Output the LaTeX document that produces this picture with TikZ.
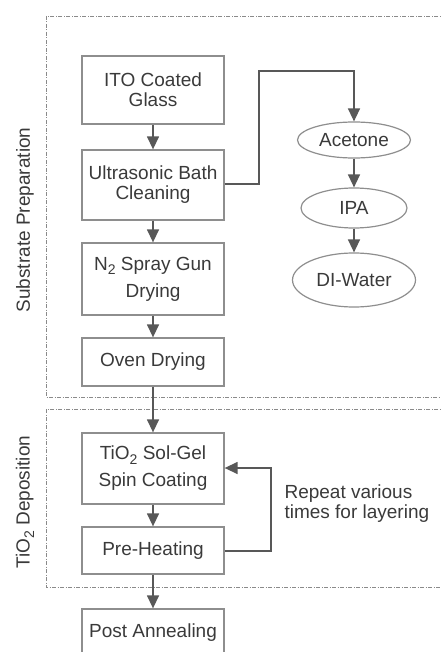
\documentclass[tikz,border=0pt]{standalone}
\usepackage{fontspec}
\setmainfont{Liberation Sans}
\usetikzlibrary{shapes.geometric,arrows.meta}
\definecolor{txt}{HTML}{3A3A3A}
\definecolor{boxline}{HTML}{8E8E8E}
\definecolor{arr}{HTML}{585858}
\definecolor{grp}{HTML}{8A8A8A}
\newcommand{\lowtwo}{\raisebox{-0.24em}{\fontsize{14}{14}\selectfont 2}}
\begin{document}
\begin{tikzpicture}[x=1pt,y=-1pt,
  every node/.style={text=txt,font=\fontsize{19}{20}\selectfont},
  stepbox/.style={draw=boxline,line width=1.3pt,minimum width=142pt,align=center,inner sep=0pt},
  oval/.style={ellipse,draw=boxline,line width=1.2pt,inner sep=0pt,align=center},
  conn/.style={draw=arr,line width=1.4pt,-{Triangle[length=13pt,width=12pt]}},
  group/.style={draw=grp,line width=0.9pt,dash pattern=on 4pt off 1.5pt on 1pt off 1.5pt}]
\useasboundingbox (0,0) rectangle (440,652);
% groups
\draw[group] (446,16) -- (46,16) -- (46,397) -- (446,397);
\draw[group] (446,409) -- (46,409) -- (46,587) -- (446,587);
\node[rotate=90] (lab1) at (25,220) {Substrate Preparation};
\node[rotate=90] (lab2) at (25,502) {TiO\lowtwo{} Deposition};
% main chain
\node[stepbox,minimum height=68pt] (ito) at (153,90) {ITO Coated\\Glass};
\node[stepbox,minimum height=70pt] (ultra) at (153,185) {Ultrasonic Bath\\Cleaning};
\node[stepbox,minimum height=72pt] (n2) at (153,279) {N\lowtwo{} Spray Gun\\[7pt]Drying};
\node[stepbox,minimum height=48pt] (oven) at (153,362) {Oven Drying};
\node[stepbox,minimum height=71pt] (tio) at (153,468.5) {TiO\lowtwo{} Sol-Gel\\[7pt]Spin Coating};
\node[stepbox,minimum height=47pt] (pre) at (153,550.5) {Pre-Heating};
\node[stepbox,minimum height=48pt] (post) at (153,633) {Post Annealing};
% solvents
\node[oval,minimum width=113pt,minimum height=36pt] (ace) at (354,140) {Acetone};
\node[oval,minimum width=106pt,minimum height=40pt] (ipa) at (354,208) {IPA};
\node[oval,minimum width=123pt,minimum height=54pt] (diw) at (354,280) {DI-Water};
% connectors
\draw[conn] (ito) -- (ultra);
\draw[conn] (ultra) -- (n2);
\draw[conn] (n2) -- (oven);
\draw[conn] (oven) -- (tio);
\draw[conn] (tio) -- (pre);
\draw[conn] (pre) -- (post);
\coordinate (c1) at (259,184);
\coordinate (c2) at (259,71);
\coordinate (c3) at (354,71);
\draw[conn] (ultra.east |- c1) -- (c1) -- (c2) -- (c3) -- (ace.north);
\draw[conn] (ace) -- (ipa);
\draw[conn] (ipa) -- (diw);
\coordinate (r1) at (271,551);
\coordinate (r2) at (271,468);
\draw[conn] (pre.east |- r1) -- (r1) -- (r2) -- (tio.east |- r2);
\node[anchor=west,align=left] (rep) at (281,504) {Repeat various\\times for layering};
\end{tikzpicture}
\end{document}
